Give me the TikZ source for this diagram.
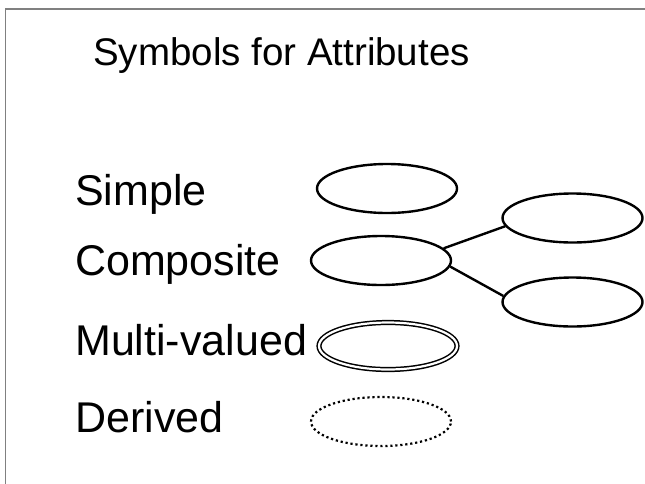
\documentclass[tikz,border=0pt]{standalone}
\usepackage{fontspec}
\setmainfont{Liberation Sans}
\usetikzlibrary{shapes.geometric}

\tikzset{
	attr/.style={draw, ellipse, line width=2.4pt, minimum width=140pt, minimum height=49pt, inner sep=0pt},
	lbl/.style={anchor=base west, inner sep=0pt, font=\fontsize{43}{50}\selectfont},
}

\begin{document}
\begin{tikzpicture}[x=1pt, y=-1pt]
	\useasboundingbox (0, 0) rectangle (645, 483);
	\draw[gray, line width=1.5pt] (5.5, 9) rectangle (700, 540);

	\node[anchor=base west, inner sep=0pt, font=\fontsize{38.5}{45}\selectfont] (title) at (93, 65) {Symbols for Attributes};

	\node[lbl] (lsimple) at (75, 205) {Simple};
	\node[lbl] (lcomp) at (75, 275) {Composite};
	\node[lbl] (lmulti) at (75, 355) {Multi-valued};
	\node[lbl] (lderived) at (75, 432) {Derived};

	\node[attr] (simple) at (387, 188.5) {};
	\node[attr] (comp) at (381, 260.5) {};
	\node[attr] (partup) at (572.5, 218) {};
	\node[attr] (partdown) at (572.5, 302) {};
	\node[attr, line width=1.5pt, double, double distance=2.2pt, minimum width=138pt, minimum height=47pt] (multi) at (388, 346) {};
	\node[attr, line width=2.2pt, dash pattern=on 2.2pt off 2.8pt] (derived) at (381, 421.5) {};

	\draw[line width=2.4pt] (comp.11) -- (partup.187);
	\draw[line width=2.4pt] (comp.355) -- (partdown.175);

\end{tikzpicture}
\end{document}
